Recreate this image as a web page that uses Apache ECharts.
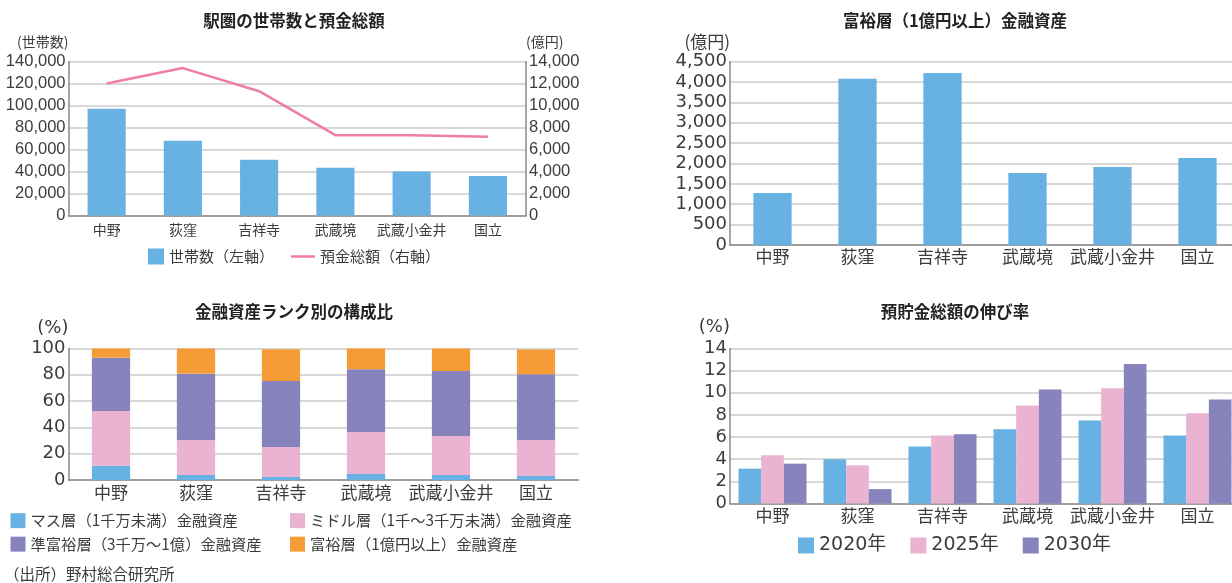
<!DOCTYPE html>
<html><head><meta charset="utf-8">
<script src="https://cdn.jsdelivr.net/npm/echarts@6/dist/echarts.min.js"></script>
<style>html,body{margin:0;padding:0;background:#fff}#c{width:1232px;height:583px}</style>
</head><body><div id="c"></div>
<script>
// ---- data ----
const stations = ['中野', '荻窪', '吉祥寺', '武蔵境', '武蔵小金井', '国立'];
const households = [97000, 67900, 50600, 43300, 40000, 36000];
const deposits = [12000, 13400, 11300, 7300, 7300, 7150];
const wealthyAssets = [1275, 4075, 4220, 1765, 1915, 2135];
const massShare = [10.9, 3.8, 2.3, 4.6, 3.8, 3.0];
const middleShare = [41.5, 26.6, 22.8, 31.9, 29.6, 27.4];
const semiWealthyShare = [40.5, 50.4, 50.1, 47.8, 49.4, 50.1];
const wealthyShare = [7.1, 19.2, 24.3, 15.7, 17.2, 18.7];
const growth2020 = [3.15, 4.0, 5.15, 6.7, 7.5, 6.15];
const growth2025 = [4.35, 3.45, 6.15, 8.85, 10.4, 8.15];
const growth2030 = [3.6, 1.3, 6.25, 10.3, 12.6, 9.4];
const titles = ['駅圏の世帯数と預金総額', '富裕層（1億円以上）金融資産', '金融資産ランク別の構成比', '預貯金総額の伸び率'];
const shareNames = ['マス層（1千万未満）金融資産', 'ミドル層（1千～3千万未満）金融資産', '準富裕層（3千万～1億）金融資産', '富裕層（1億円以上）金融資産'];
const yearNames = ['2020年', '2025年', '2030年'];
const source = '（出所）野村総合研究所';

// ---- style ----
const JP = '"Noto Sans CJK JP", sans-serif';
const NUM = '"DejaVu Sans", "Noto Sans CJK JP", sans-serif';
const NUMN = '"Liberation Sans", sans-serif';
const TXT = '#3c3c3c';
const GRIDC = '#cbcbcb';
const AXC = '#8a8a8a';
const C_BLUE = '#67b2e2', C_PINK = '#eab3d2', C_PURPLE = '#8783bd', C_ORANGE = '#f59c37', C_LINE = '#ef7f9d';
const fmt = v => Number(v).toLocaleString('en-US');

function xAx(gi, fs, margin) {
  return { type: 'category', gridIndex: gi, data: stations,
    axisTick: { show: false },
    axisLine: { lineStyle: { color: AXC, width: 1.5 } },
    axisLabel: { color: TXT, fontFamily: JP, fontSize: fs, margin: margin, interval: 0 } };
}
function yAx(gi, max, interval, name, o) {
  o = o || {};
  return { type: 'value', gridIndex: gi, min: 0, max: max, interval: interval,
    position: o.pos || 'left',
    name: name, nameLocation: 'end', nameGap: o.nameGap || 20,
    nameTextStyle: { color: TXT, fontFamily: o.nameFont || JP, fontSize: o.nameSize || 14, align: o.pos === 'right' ? 'left' : 'right', verticalAlign: 'middle' },
    axisLine: { show: true, lineStyle: { color: AXC, width: 1.5 } },
    axisTick: { show: false },
    splitLine: { show: o.split !== false, lineStyle: { color: GRIDC, width: 1.5 } },
    axisLabel: { color: TXT, fontFamily: o.font || NUM, fontSize: o.fs || 18, margin: 3, formatter: fmt } };
}
const legTxt = (fs, ff) => ({ fontFamily: ff || JP, fontSize: fs, color: TXT });

const chart = echarts.init(document.getElementById('c'), null, { renderer: 'canvas' });
chart.setOption({
  animation: false,
  backgroundColor: '#ffffff',
  grid: [
    { left: 68.5, top: 61.5, width: 457.5, height: 154, outerBoundsMode: 'none' },
    { left: 730, top: 61.5, width: 510, height: 183.5, outerBoundsMode: 'none' },
    { left: 68.5, top: 348.5, width: 510, height: 131.5, outerBoundsMode: 'none' },
    { left: 730, top: 348.5, width: 510, height: 155, outerBoundsMode: 'none' }
  ],
  xAxis: [xAx(0, 14, 7), xAx(1, 17, 3), xAx(2, 17, 4), xAx(3, 17, 4)],
  yAxis: [
    yAx(0, 140000, 20000, '(世帯数)', { font: NUMN, fs: 16.5 }),
    yAx(0, 14000, 2000, '(億円)', { pos: 'right', split: false, font: NUMN, fs: 16.5 }),
    yAx(1, 4500, 500, '(億円)', { nameSize: 17 }),
    yAx(2, 100, 20, '(%)', { nameSize: 18, nameFont: NUM }),
    yAx(3, 14, 2, '(%)', { nameSize: 18, nameFont: NUM, nameGap: 21 })
  ],
  legend: [
    { data: ['世帯数（左軸）'], left: 148, top: 248.5, padding: 0, itemWidth: 16, itemHeight: 16, icon: 'rect', selectedMode: false, textStyle: legTxt(15) },
    { data: ['預金総額（右軸）'], left: 291, top: 249, padding: 0, itemWidth: 24, itemHeight: 2.5, icon: 'rect', selectedMode: false, textStyle: legTxt(15) },
    { data: [shareNames[0]], left: 10.5, top: 513, padding: 0, itemWidth: 15, itemHeight: 15, icon: 'rect', selectedMode: false, textStyle: legTxt(15.3) },
    { data: [shareNames[1]], left: 290, top: 513, padding: 0, itemWidth: 15, itemHeight: 15, icon: 'rect', selectedMode: false, textStyle: legTxt(15.3) },
    { data: [shareNames[2]], left: 10.5, top: 536.5, padding: 0, itemWidth: 15, itemHeight: 15, icon: 'rect', selectedMode: false, textStyle: legTxt(15.3) },
    { data: [shareNames[3]], left: 290, top: 536.5, padding: 0, itemWidth: 15, itemHeight: 15, icon: 'rect', selectedMode: false, textStyle: legTxt(15.3) },
    { data: yearNames, left: 798, top: 536, padding: 0, itemWidth: 16, itemHeight: 16, itemGap: 24, icon: 'rect', selectedMode: false, textStyle: legTxt(19, NUM) }
  ],
  graphic: [
    { type: 'text', x: 294, y: 21, style: { text: titles[0], fontFamily: JP, fontSize: 16.5, fontWeight: 'bold', fill: '#222', textAlign: 'center', textVerticalAlign: 'middle' } },
    { type: 'text', x: 955, y: 21, style: { text: titles[1], fontFamily: JP, fontSize: 16.5, fontWeight: 'bold', fill: '#222', textAlign: 'center', textVerticalAlign: 'middle' } },
    { type: 'text', x: 294, y: 312, style: { text: titles[2], fontFamily: JP, fontSize: 16.5, fontWeight: 'bold', fill: '#222', textAlign: 'center', textVerticalAlign: 'middle' } },
    { type: 'text', x: 955, y: 312, style: { text: titles[3], fontFamily: JP, fontSize: 16.5, fontWeight: 'bold', fill: '#222', textAlign: 'center', textVerticalAlign: 'middle' } },
    { type: 'text', x: 4, y: 574, style: { text: source, fontFamily: JP, fontSize: 15.5, fill: TXT, textAlign: 'left', textVerticalAlign: 'middle' } }
  ],
  series: [
    { name: '世帯数（左軸）', type: 'bar', xAxisIndex: 0, yAxisIndex: 0, data: households, barWidth: '50%', itemStyle: { color: C_BLUE } },
    { name: '預金総額（右軸）', type: 'line', xAxisIndex: 0, yAxisIndex: 1, data: deposits, symbol: 'none', showSymbol: false, lineStyle: { color: C_LINE, width: 2.5 }, itemStyle: { color: C_LINE } },
    { name: '富裕層金融資産額', type: 'bar', xAxisIndex: 1, yAxisIndex: 2, data: wealthyAssets, barWidth: '45%', itemStyle: { color: C_BLUE } },
    { name: shareNames[0], type: 'bar', stack: 'rank', xAxisIndex: 2, yAxisIndex: 3, data: massShare, barWidth: '45%', itemStyle: { color: C_BLUE } },
    { name: shareNames[1], type: 'bar', stack: 'rank', xAxisIndex: 2, yAxisIndex: 3, data: middleShare, barWidth: '45%', itemStyle: { color: C_PINK } },
    { name: shareNames[2], type: 'bar', stack: 'rank', xAxisIndex: 2, yAxisIndex: 3, data: semiWealthyShare, barWidth: '45%', itemStyle: { color: C_PURPLE } },
    { name: shareNames[3], type: 'bar', stack: 'rank', xAxisIndex: 2, yAxisIndex: 3, data: wealthyShare, barWidth: '45%', itemStyle: { color: C_ORANGE } },
    { name: yearNames[0], type: 'bar', xAxisIndex: 3, yAxisIndex: 4, data: growth2020, barGap: '0%', barCategoryGap: '20%', itemStyle: { color: C_BLUE } },
    { name: yearNames[1], type: 'bar', xAxisIndex: 3, yAxisIndex: 4, data: growth2025, barGap: '0%', barCategoryGap: '20%', itemStyle: { color: C_PINK } },
    { name: yearNames[2], type: 'bar', xAxisIndex: 3, yAxisIndex: 4, data: growth2030, barGap: '0%', barCategoryGap: '20%', itemStyle: { color: C_PURPLE } }
  ]
});
</script></body></html>
